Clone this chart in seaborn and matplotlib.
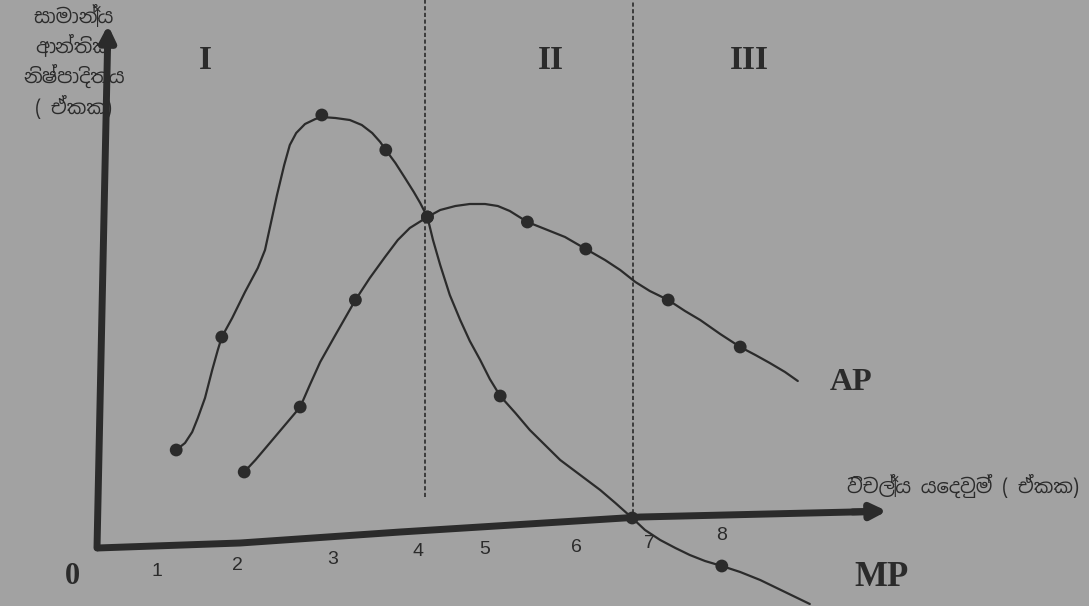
import seaborn as sns
import pandas as pd
import numpy as np
import matplotlib.pyplot as plt

### Marginal product / average product diagram

# MP curve (input units, output units)
mp_x = [0.99, 1.10, 1.19, 1.26, 1.35, 1.44, 1.51, 1.56, 1.69, 1.85, 2.01, 2.10, 2.16, 2.25, 2.34, 2.41,
        2.49, 2.60, 2.73, 2.81, 2.98, 3.16, 3.31, 3.44, 3.54, 3.61, 3.73, 3.85, 3.96, 4.04, 4.13, 4.20,
        4.29, 4.41, 4.54, 4.66, 4.79, 4.91, 5.04, 5.23, 5.41, 5.60, 5.79, 6.04, 6.29, 6.48, 6.69, 6.85,
        7.04, 7.23, 7.41, 7.60, 7.81, 8.04, 8.29, 8.60, 8.91]
mp_y = [1.96, 2.10, 2.32, 2.60, 3.00, 3.56, 3.96, 4.22, 4.60, 5.12, 5.60, 5.96, 6.40, 7.06, 7.66, 8.06,
        8.30, 8.48, 8.58, 8.62, 8.60, 8.56, 8.46, 8.30, 8.12, 7.96, 7.70, 7.40, 7.12, 6.90, 6.62, 6.16,
        5.66, 5.06, 4.56, 4.14, 3.76, 3.38, 3.04, 2.70, 2.36, 2.06, 1.76, 1.46, 1.16, 0.90, 0.60, 0.36,
        0.16, 0.00, -0.14, -0.26, -0.36, -0.48, -0.64, -0.88, -1.12]
mp_dot_x = [0.99, 1.56, 2.81, 3.61, 4.13, 5.04, 6.69, 7.81]
mp_dot_y = [1.96, 4.22, 8.66, 7.96, 6.62, 3.04, 0.60, -0.36]

# AP curve
ap_x = [1.84, 1.98, 2.16, 2.35, 2.54, 2.66, 2.79, 2.98, 3.23, 3.41, 3.60, 3.76, 3.91, 4.13, 4.29,
        4.48, 4.66, 4.85, 5.01, 5.16, 5.38, 5.60, 5.85, 6.11, 6.35, 6.54, 6.73, 6.91, 7.14, 7.35,
        7.54, 7.79, 8.04, 8.23, 8.41, 8.60, 8.76]
ap_y = [1.52, 1.76, 2.10, 2.46, 2.82, 3.26, 3.72, 4.26, 4.96, 5.40, 5.82, 6.16, 6.40, 6.62, 6.76,
        6.84, 6.88, 6.88, 6.84, 6.74, 6.52, 6.38, 6.22, 5.98, 5.76, 5.56, 5.32, 5.14, 4.96, 4.74,
        4.56, 4.28, 4.02, 3.86, 3.70, 3.52, 3.34]
ap_dot_x = [1.84, 2.54, 3.23, 4.13, 5.38, 6.11, 7.14, 8.04]
ap_dot_y = [1.52, 2.82, 4.96, 6.62, 6.52, 5.98, 4.96, 4.02]

# stage boundaries
stage_x = [4.1, 6.7]
stage_bottom = [1.02, 0.56]
stage_names = ['I', 'II', 'III']
stage_label_x = [1.35, 5.675, 8.16]

# axis ticks as printed (axis is slightly tilted in the photo)
tick_labels = ['1', '2', '3', '4', '5', '6', '7', '8']
tick_x = [0.75, 1.75, 2.95, 4.01, 4.85, 5.99, 6.91, 7.81]
tick_y = [-0.48, -0.36, -0.24, -0.08, -0.02, 0.02, 0.10, 0.26]
xaxis_x = [0, 1.79, 3.79, 6.79, 9.91]
xaxis_y = [0, 0.10, 0.32, 0.62, 0.74]

ylabel = 'සාමාන්‍ය\nආන්තික\nනිෂ්පාදිතය\n( ඒකක)'
xlabel = 'විචල්‍ය යෙදවුම් ( ඒකක)'

ink = '#2b2b2b'
bg = '#a2a2a2'
sinhala = ['Noto Sans Sinhala', 'Noto Sans', 'DejaVu Sans']
serif = ['Liberation Serif', 'DejaVu Serif']

sns.set_style('white')
fig = plt.figure(figsize=(10.89, 6.06), dpi=100, facecolor=bg)
ax = fig.add_axes([0, 0, 1, 1])
ax.set_facecolor(bg)

#Curves
sns.lineplot(x=mp_x, y=mp_y, sort=False, color=ink, lw=1.6, ax=ax, solid_joinstyle='round')
sns.lineplot(x=ap_x, y=ap_y, sort=False, color=ink, lw=1.6, ax=ax, solid_joinstyle='round')
sns.scatterplot(x=mp_dot_x + ap_dot_x, y=mp_dot_y + ap_dot_y, color=ink, s=85, edgecolor='none', ax=ax, zorder=5)

#Stage lines
for sx, sb in zip(stage_x, stage_bottom):
    ax.plot([sx, sx], [sb, 11], color=ink, lw=1.2, ls=(0, (2.5, 1.5)))
for name, lx in zip(stage_names, stage_label_x):
    ax.text(lx, 9.75, name, ha='center', va='center', fontsize=24, fontweight='bold', family=serif, color=ink)

#Axis labels (drawn under the axis arrows as in the print)
ax.text(-0.29, 9.72, ylabel, ha='center', va='center', fontsize=14, fontweight='bold', family=sinhala,
        color=ink, linespacing=1.35, zorder=1)
ax.text(10.82, 1.24, xlabel, ha='center', va='center', fontsize=14, fontweight='bold', family=sinhala, color=ink)

#Axes
ax.plot(xaxis_x[:-1] + [xaxis_x[-1] - 0.2], xaxis_y[:-1] + [xaxis_y[-1] - 0.01], color=ink, lw=5,
        solid_capstyle='butt', zorder=3)
ax.annotate('', xy=(xaxis_x[-1], xaxis_y[-1]), xytext=(xaxis_x[-1] - 0.5, xaxis_y[-1] - 0.02),
            arrowprops=dict(arrowstyle='-|>,head_length=0.9,head_width=0.45', color=ink, lw=5), zorder=3)
ax.annotate('', xy=(0.1375, 10.46), xytext=(0, 0),
            arrowprops=dict(arrowstyle='-|>,head_length=0.9,head_width=0.45', color=ink, lw=5, shrinkA=0, shrinkB=0),
            zorder=3)

for lab, tx, ty in zip(tick_labels, tick_x, tick_y):
    ax.text(tx, ty, lab, ha='center', va='center', fontsize=14, family=['Liberation Sans', 'DejaVu Sans'], color=ink)

ax.text(-0.31, -0.58, '0', ha='center', va='center', fontsize=22, fontweight='bold', family=serif, color=ink)
ax.text(9.425, 3.3, 'AP', ha='center', va='center', fontsize=23, fontweight='bold', family=serif, color=ink)
ax.text(9.81, -0.58, 'MP', ha='center', va='center', fontsize=25, fontweight='bold', family=serif, color=ink)

ax.set_xlim(-1.2125, 12.4)
ax.set_ylim(-1.16, 10.96)
ax.axis('off')

plt.savefig('out.png', dpi=100, facecolor=bg)
